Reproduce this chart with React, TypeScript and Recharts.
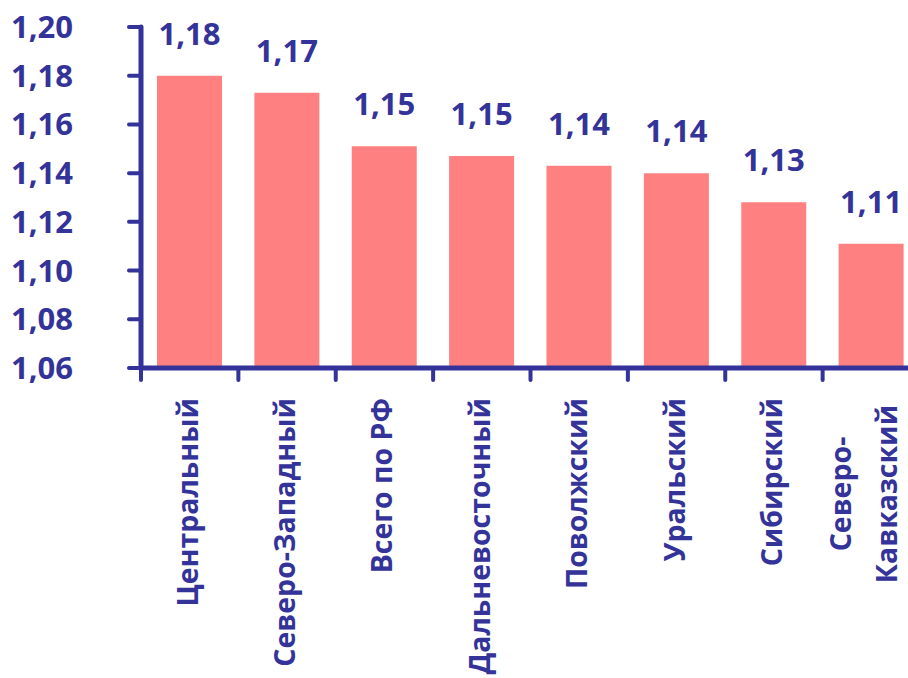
import React from 'react';
import { BarChart, Bar, XAxis, YAxis, LabelList } from 'recharts';

const regions = [
  'Центральный',
  'Северо-Западный',
  'Всего по РФ',
  'Дальневосточный',
  'Поволжский',
  'Уральский',
  'Сибирский',
  'Северо-\nКавказский',
];
const values = [1.18, 1.173, 1.151, 1.147, 1.143, 1.14, 1.128, 1.111];
const yTicks = [1.06, 1.08, 1.1, 1.12, 1.14, 1.16, 1.18, 1.2];

const data = regions.map((name, i) => ({ name, value: values[i] }));

const NAVY = '#333399';
const BAR = '#FF8080';
const FONT = '"Open Sans", "DejaVu Sans", sans-serif';

const CHART_W = 920;
const CHART_H = 678;
const Y_AXIS_W = 141;
const TOP = 27;
const X_AXIS_H = 310;
const BAND = (CHART_W - Y_AXIS_W) / regions.length;
const TICK = 12;
const TICK_MARGIN = 18;
const CAT_FONT = 28.5;

const fmt = (v: number) => v.toFixed(2).replace('.', ',');

function CategoryTick(props: any) {
  const { x, y, payload, index } = props;
  const lines = String(payload.value).split('\n');
  const axisY = y - TICK - TICK_MARGIN;
  const half = BAND / 2;
  const tickStyle = { stroke: NAVY, strokeWidth: 4, strokeLinecap: 'round' as const };
  return (
    <g>
      <line x1={x - half} x2={x - half} y1={axisY} y2={axisY + TICK} {...tickStyle} />
      {index === regions.length - 1 && (
        <line x1={x + half} x2={x + half} y1={axisY} y2={axisY + TICK} {...tickStyle} />
      )}
      <g transform={`translate(${x},${y}) rotate(-90)`}>
        {lines.length === 1 ? (
          <text x={0} y={-2} dy="0.35em" textAnchor="end" fill={NAVY} fontSize={CAT_FONT} fontWeight="bold" fontFamily={FONT}>
            {lines[0]}
          </text>
        ) : (
          lines.map((line, i) => (
            <text
              key={i}
              x={-96}
              y={i === 0 ? -30 : 16}
              dy="0.35em"
              textAnchor="middle"
              fill={NAVY}
              fontSize={CAT_FONT}
              fontWeight="bold"
              fontFamily={FONT}
            >
              {line}
            </text>
          ))
        )}
      </g>
    </g>
  );
}

export default function App() {
  return (
    <div style={{ position: 'absolute', left: 0, top: 0, width: 908, height: 678, overflow: 'hidden', background: '#fff' }}>
      <BarChart
        width={CHART_W}
        height={CHART_H}
        data={data}
        margin={{ top: TOP, right: 0, left: 0, bottom: 0 }}
        barCategoryGap={16}
      >
        <XAxis
          dataKey="name"
          height={X_AXIS_H}
          interval={0}
          tickLine={false}
          tickSize={TICK}
          tickMargin={TICK_MARGIN}
          axisLine={{ stroke: NAVY, strokeWidth: 5, strokeLinecap: 'round' }}
          tick={<CategoryTick />}
        />
        <YAxis
          width={Y_AXIS_W}
          domain={[1.06, 1.2]}
          ticks={yTicks}
          interval={0}
          allowDataOverflow
          tickFormatter={fmt}
          tickSize={TICK}
          tickMargin={56}
          axisLine={{ stroke: NAVY, strokeWidth: 5, strokeLinecap: 'round' }}
          tickLine={{ stroke: NAVY, strokeWidth: 4, strokeLinecap: 'round' }}
          tick={{ fill: NAVY, fontSize: 31, fontWeight: 'bold', fontFamily: FONT }}
        />
        <Bar dataKey="value" fill={BAR} isAnimationActive={false}>
          <LabelList
            dataKey="value"
            position="top"
            offset={31}
            formatter={(v: any) => fmt(Number(v))}
            style={{ fill: NAVY, fontSize: 31, fontWeight: 'bold', fontFamily: FONT }}
          />
        </Bar>
      </BarChart>
    </div>
  );
}
